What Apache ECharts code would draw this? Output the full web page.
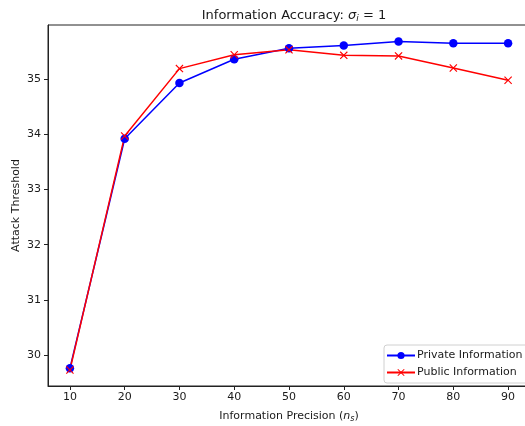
<!DOCTYPE html>
<html>
<head>
<meta charset="utf-8">
<script src="https://cdn.jsdelivr.net/npm/echarts@6/dist/echarts.min.js"></script>
<style>
  html, body { margin: 0; padding: 0; background: #fff; overflow: hidden; }
  #chart { width: 525px; height: 426px; }
</style>
</head>
<body>
<div id="chart"></div>
<script>
// Information precision levels (n_s)
const precision = [10, 20, 30, 40, 50, 60, 70, 80, 90];
// Attack threshold under each information structure
const privateInfo = [29.76, 33.92, 34.93, 35.36, 35.56, 35.61, 35.68, 35.65, 35.65];
const publicInfo  = [29.73, 33.97, 35.19, 35.44, 35.53, 35.43, 35.42, 35.20, 34.98];
// Tick positions
const xTicks = [10, 20, 30, 40, 50, 60, 70, 80, 90];
const yTicks = [30, 31, 32, 33, 34, 35];

const FONT = 'DejaVu Sans';
const TXT = '#1a1a1a';
const crossPath = 'path://M0,1 L1,0 L5,4 L9,0 L10,1 L6,5 L10,9 L9,10 L5,6 L1,10 L0,9 L4,5 Z';

const chart = echarts.init(document.getElementById('chart'), null, { renderer: 'canvas' });

chart.setOption({
  animation: false,
  backgroundColor: '#fff',
  textStyle: { fontFamily: FONT, color: TXT },
  title: {
    text: 'Information Accuracy: {it|σ}{sub|i}{n| = 1}',
    left: 289,
    textAlign: 'center',
    top: 3,
    textStyle: {
      fontFamily: FONT, fontSize: 13, fontWeight: 'normal', color: TXT,
      rich: {
        it: { fontFamily: FONT, fontStyle: 'italic', fontSize: 13, color: TXT },
        sub: { fontFamily: FONT, fontStyle: 'italic', fontSize: 9, color: TXT, padding: [6, 0, 0, 0] },
        n: { fontFamily: FONT, fontSize: 13, color: TXT }
      }
    }
  },
  // the plot frame runs a little past the right edge of the canvas
  grid: {
    left: 48, top: 25, width: 482, height: 361,
    show: true, borderColor: '#222', borderWidth: 1,
    containLabel: false, outerBoundsMode: 'none'
  },
  legend: {
    orient: 'vertical',
    left: 384,
    top: 345,
    padding: [5, 6, 5, 2],
    itemGap: 6,
    itemWidth: 28,
    itemHeight: 9,
    backgroundColor: 'rgba(255,255,255,0.85)',
    borderColor: '#d0d0d0',
    borderWidth: 1,
    borderRadius: 3,
    textStyle: { fontFamily: FONT, fontSize: 11, color: TXT, padding: [0, 0, 0, -3] },
    data: ['Private Information', 'Public Information']
  },
  xAxis: {
    type: 'value',
    min: 6,
    max: 94,
    name: 'Information Precision ({it|n}{sub|s})',
    nameLocation: 'middle',
    nameGap: 24,
    nameMoveOverlap: false,
    nameTextStyle: {
      fontFamily: FONT, fontSize: 11, color: TXT,
      rich: {
        it: { fontFamily: FONT, fontStyle: 'italic', fontSize: 11, color: TXT },
        sub: { fontFamily: FONT, fontStyle: 'italic', fontSize: 8, color: TXT, padding: [5, 0, 0, 0] }
      }
    },
    axisLine: { show: true, lineStyle: { color: '#222', width: 1 } },
    axisTick: { show: true, length: 4, lineStyle: { color: '#222' }, customValues: xTicks },
    axisLabel: { fontFamily: FONT, fontSize: 11, color: TXT, margin: 6, customValues: xTicks },
    splitLine: { show: false }
  },
  yAxis: {
    type: 'value',
    min: 29.44,
    max: 35.98,
    name: 'Attack Threshold',
    nameLocation: 'middle',
    nameGap: 26,
    nameMoveOverlap: false,
    nameTextStyle: { fontFamily: FONT, fontSize: 11, color: TXT },
    axisLine: { show: true, lineStyle: { color: '#222', width: 1 } },
    axisTick: { show: true, length: 4, lineStyle: { color: '#222' }, customValues: yTicks },
    axisLabel: { fontFamily: FONT, fontSize: 11, color: TXT, margin: 7, customValues: yTicks },
    splitLine: { show: false }
  },
  series: [
    {
      name: 'Private Information',
      type: 'line',
      data: precision.map((x, i) => [x, privateInfo[i]]),
      symbol: 'circle',
      symbolSize: 8.5,
      showAllSymbol: true,
      lineStyle: { color: '#0000ff', width: 1.5 },
      itemStyle: { color: '#0000ff' }
    },
    {
      name: 'Public Information',
      type: 'line',
      data: precision.map((x, i) => [x, publicInfo[i]]),
      symbol: crossPath,
      symbolSize: 8,
      showAllSymbol: true,
      lineStyle: { color: '#ff0000', width: 1.5 },
      itemStyle: { color: '#ff0000' }
    }
  ]
});
</script>
</body>
</html>
